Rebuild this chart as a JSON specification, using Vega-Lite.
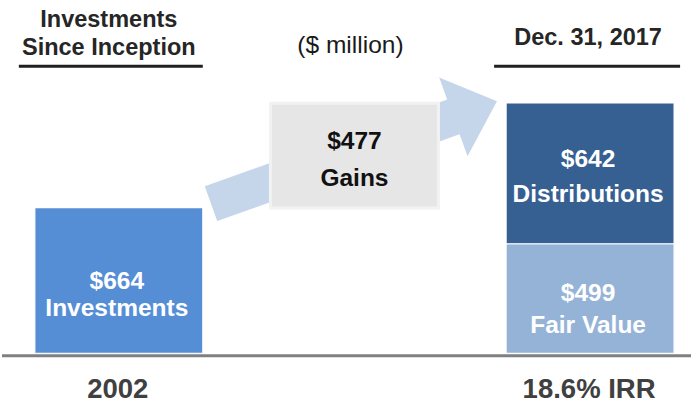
{
  "$schema": "https://vega.github.io/schema/vega-lite/v6.json",
  "width": 693,
  "height": 404,
  "padding": 0,
  "autosize": {"type": "fit", "contains": "padding"},
  "background": "#ffffff",
  "config": {"view": {"stroke": null}, "text": {"font": "Liberation Sans"}},
  "datasets": {
    "bars": [
      {"period": "2002", "component": "Investments", "start": 0, "end": 664},
      {"period": "2017", "component": "Fair Value", "start": 0, "end": 499},
      {"period": "2017", "component": "Distributions", "start": 499, "end": 1141}
    ],
    "gains": [
      {"period": "Gains", "start": 662, "end": 1139}
    ],
    "arrow": [
      {"period": "Gains", "start": 929.7}
    ],
    "underlineLeft": [
      {"period": "2002", "start": 1301.6, "end": 1315.2}
    ],
    "underlineRight": [
      {"period": "2017", "start": 1301.6, "end": 1315.2}
    ],
    "headersLeft": [
      {"period": "2002", "text": "Investments", "start": 1487.5},
      {"period": "2002", "text": "Since Inception", "start": 1360.5}
    ],
    "headersRight": [
      {"period": "2017", "text": "Dec. 31, 2017", "start": 1405.9}
    ],
    "unit": [
      {"period": "Gains", "text": "($ million)", "start": 1369.6}
    ],
    "gainLabels": [
      {"period": "Gains", "text": "$477", "start": 929.7},
      {"period": "Gains", "text": "Gains", "start": 761.9}
    ],
    "barLabels": [
      {"period": "2002", "text": "$664", "start": 294.8},
      {"period": "2002", "text": "Investments", "start": 167.8},
      {"period": "2017", "text": "$642", "start": 848.1},
      {"period": "2017", "text": "Distributions", "start": 689.3},
      {"period": "2017", "text": "$499", "start": 240.4},
      {"period": "2017", "text": "Fair Value", "start": 90.7}
    ],
    "bottom": [
      {"period": "2002", "text": "2002", "start": -204.1},
      {"period": "2017", "text": "18.6% IRR", "start": -204.1}
    ]
  },
  "encoding": {
    "x": {
      "field": "period",
      "type": "nominal",
      "scale": {"domain": ["2002", "Gains", "2017"], "paddingInner": 0.287, "paddingOuter": 0.1055, "align": 0.66},
      "axis": null
    },
    "y": {
      "field": "start",
      "type": "quantitative",
      "scale": {"domain": [-222.2, 1610], "nice": false, "zero": false},
      "axis": null
    }
  },
  "layer": [
    {
      "data": {"name": "arrow"},
      "mark": {
        "type": "point",
        "shape": "M-0.998,0.247L0.618,-0.332L0.565,-0.479L0.95,-0.32L0.754,0.047L0.701,-0.1L-0.915,0.479Z",
        "size": 90000,
        "filled": true,
        "color": "#c6d6ea",
        "opacity": 1,
        "strokeWidth": 0
      }
    },
    {
      "data": {"name": "gains"},
      "mark": {"type": "bar", "color": "#e6e6e6", "stroke": "#f2f2f2", "strokeWidth": 3},
      "encoding": {"y2": {"field": "end"}}
    },
    {
      "data": {"name": "bars"},
      "mark": {"type": "bar", "stroke": "#ffffff", "strokeWidth": 1.2},
      "encoding": {
        "y2": {"field": "end"},
        "color": {
          "field": "component",
          "type": "nominal",
          "scale": {"domain": ["Investments", "Fair Value", "Distributions"], "range": ["#558ed5", "#95b3d7", "#376092"]},
          "legend": null
        }
      }
    },
    {
      "data": {"values": [{"level": -11.3}]},
      "mark": {"type": "rule", "color": "#808080", "strokeWidth": 3},
      "encoding": {"x": null, "y": {"field": "level", "type": "quantitative"}}
    },
    {
      "data": {"name": "underlineLeft"},
      "mark": {"type": "bar", "color": "#1f1f1f", "width": {"band": 1.095}, "xOffset": -8},
      "encoding": {"y2": {"field": "end"}}
    },
    {
      "data": {"name": "underlineRight"},
      "mark": {"type": "bar", "color": "#1f1f1f", "width": {"band": 1.107}, "xOffset": -3},
      "encoding": {"y2": {"field": "end"}}
    },
    {
      "data": {"name": "headersLeft"},
      "mark": {"type": "text", "fontSize": 23.5, "fontWeight": "bold", "color": "#262626", "baseline": "alphabetic", "dx": -10},
      "encoding": {"text": {"field": "text"}}
    },
    {
      "data": {"name": "headersRight"},
      "mark": {"type": "text", "fontSize": 23.5, "fontWeight": "bold", "color": "#262626", "baseline": "alphabetic", "dx": -2},
      "encoding": {"text": {"field": "text"}}
    },
    {
      "data": {"name": "unit"},
      "mark": {"type": "text", "fontSize": 24.5, "color": "#1a1a1a", "baseline": "alphabetic", "dx": -4},
      "encoding": {"text": {"field": "text"}}
    },
    {
      "data": {"name": "gainLabels"},
      "mark": {"type": "text", "fontSize": 24.5, "fontWeight": "bold", "color": "#111111", "baseline": "alphabetic", "letterSpacing": 1.2},
      "encoding": {"text": {"field": "text"}}
    },
    {
      "data": {"name": "barLabels"},
      "mark": {"type": "text", "fontSize": 24.5, "fontWeight": "bold", "color": "#ffffff", "baseline": "alphabetic", "letterSpacing": 1, "dx": -2},
      "encoding": {"text": {"field": "text"}}
    },
    {
      "data": {"name": "bottom"},
      "mark": {"type": "text", "fontSize": 27.5, "fontWeight": "bold", "color": "#404040", "baseline": "alphabetic", "dx": -1},
      "encoding": {"text": {"field": "text"}}
    }
  ]
}
